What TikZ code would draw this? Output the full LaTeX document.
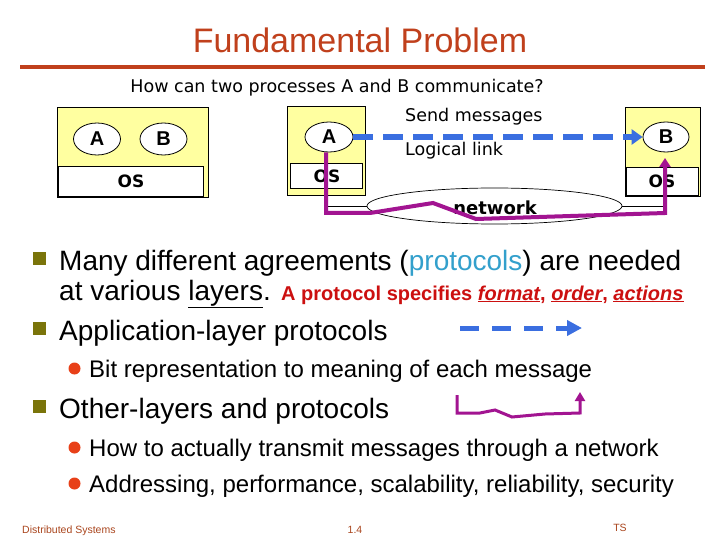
\documentclass[tikz,border=0pt]{standalone}
\usepackage{fontspec}
\setmainfont{Liberation Sans}
\newfontfamily\verd{DejaVu Sans}
\usetikzlibrary{shapes.geometric,arrows.meta}
\definecolor{titlecol}{RGB}{192,64,28}
\definecolor{hostyellow}{RGB}{255,255,160}
\definecolor{msgblue}{RGB}{58,110,224}
\definecolor{netmag}{RGB}{162,20,145}
\definecolor{olivecol}{RGB}{122,116,10}
\definecolor{protored}{RGB}{204,16,16}
\definecolor{protocyan}{RGB}{51,160,204}
\definecolor{dotcol}{RGB}{232,64,24}
\definecolor{footcol}{RGB}{170,70,30}
\begin{document}
\begin{tikzpicture}[x=1pt,y=-1pt,
  hostbox/.style={draw=black, line width=1pt, fill=hostyellow, inner sep=0pt, anchor=north west},
  osbox/.style={draw=black, line width=0.8pt, fill=white, inner sep=0pt, anchor=north west},
  oslabel/.style={font=\verd\bfseries\fontsize{17}{17}\selectfont, inner sep=0pt},
  proc/.style={ellipse, draw=black, line width=0.8pt, fill=white, inner sep=0pt, font=\bfseries\fontsize{20}{20}\selectfont},
  msg/.style={draw=msgblue, line width=6pt, dash pattern=on 20pt off 10pt, -{Triangle[length=11pt,width=15pt]}},
  netpath/.style={draw=netmag, line width=4pt, line join=miter, -{Triangle[length=9pt,width=11pt]}},
  vlabel/.style={font=\verd\fontsize{17.5}{20}\selectfont, inner sep=0pt},
  big/.style={font=\fontsize{28}{34}\selectfont, inner sep=0pt, anchor=base west},
  small/.style={font=\fontsize{24}{28}\selectfont, inner sep=0pt, anchor=base west},
  sqbullet/.style={rectangle, fill=olivecol, minimum size=13pt, inner sep=0pt},
  dotbullet/.style={circle, fill=dotcol, minimum size=12pt, inner sep=0pt},
  foot/.style={font=\fontsize{10.5}{12}\selectfont, text=footcol, inner sep=0pt}]
\useasboundingbox[fill=white] (0,0) rectangle (720,540);

% title
\node[font=\fontsize{34}{40}\selectfont, text=titlecol, inner sep=0pt] (title) at (360,40) {Fundamental Problem};
\coordinate (rl) at (20,67);
\coordinate (rr) at (705,67);
\draw[titlecol, line width=4pt] (rl) -- (rr);
\node[vlabel] (question) at (337,88) {How can two processes A and B communicate?};

% left host
\node[hostbox, minimum width=151pt, minimum height=90pt] (host0) at (57,107) {};
\node[osbox, minimum width=145pt, minimum height=30pt] (os0) at (58,166) {};
\node[oslabel] (os0t) at (131,181) {OS};
\node[proc, minimum width=47pt, minimum height=32pt] (p0a) at (97,139) {A};
\node[proc, minimum width=47pt, minimum height=32pt] (p0b) at (163.5,139) {B};

% host A
\node[hostbox, minimum width=78pt, minimum height=89pt] (hostA) at (287,106) {};
\node[osbox, minimum width=72pt, minimum height=25pt] (osA) at (290,163) {};
\node[oslabel] (osAt) at (327,176.5) {OS};
\node[proc, minimum width=48pt, minimum height=30pt] (procA) at (329,137) {A};

% host B
\node[hostbox, minimum width=75pt, minimum height=89pt] (hostB) at (625,107) {};
\node[osbox, minimum width=72pt, minimum height=28pt] (osB) at (626,167) {};
\node[oslabel] (osBt) at (662,181) {OS};
\node[proc, minimum width=46pt, minimum height=30pt] (procB) at (666,137) {B};

% network
\node[ellipse, draw=black, line width=0.7pt, fill=white, minimum width=255pt, minimum height=36pt, inner sep=0pt] (net) at (494.5,206) {};
\draw[line width=0.8pt] (hostA.south) |- (net.west);
\draw[line width=0.8pt] (net.east) -| (hostB.south);
\node[font=\verd\bfseries\fontsize{18}{18}\selectfont, inner sep=0pt] (nett) at (495,208) {network};

% physical path
\coordinate (m1) at (326,213);
\coordinate (m2) at (370,213);
\coordinate (m3) at (433,203);
\coordinate (m4) at (476,219);
\coordinate (m5) at (665,213);
\coordinate (m6) at (665,158);
\draw[netpath] (procA.south -| m1) -- (m1) -- (m2) -- (m3) -- (m4) -- (m5) -- (m6);

% logical link
\draw[msg] (procA.east) -- (procB.west);
\node[vlabel, anchor=west] (sendt) at (405,117) {Send messages};
\node[vlabel, anchor=west] (logt) at (405,151) {Logical link};

% bullets
\node[sqbullet] (sq1) at (39,258.5) {};
\node[big] (b1) at (59,270) {Many different agreements (\textcolor{protocyan}{protocols}) are needed};
\node[big] (b1b) at (59,300) {at various \underline{layers}. {\color{protored}\bfseries\fontsize{20}{24}\selectfont A protocol specifies \textit{\underline{format}}, \textit{\underline{order}}, \textit{\underline{actions}}}};

\node[sqbullet] (sq2) at (39,328.5) {};
\node[big] (b2) at (59,340) {Application-layer protocols};
\coordinate (la) at (460,328);
\coordinate (lb) at (582,328);
\draw[draw=msgblue, line width=5pt, dash pattern=on 19pt off 13pt, -{Triangle[length=15pt,width=15pt]}] (la) -- (lb);

\node[dotbullet] (dt1) at (74.5,368.5) {};
\node[small] (s1) at (89,377.5) {Bit representation to meaning of each message};

\node[sqbullet] (sq3) at (39,406.5) {};
\node[big] (b3) at (59,418) {Other-layers and protocols};
\coordinate (q1) at (457,395);
\coordinate (q2) at (457,413);
\coordinate (q3) at (480,413);
\coordinate (q4) at (495,410);
\coordinate (q5) at (512,417);
\coordinate (q6) at (545,414);
\coordinate (q7) at (580,413);
\coordinate (q8) at (580,392);
\draw[draw=netmag, line width=3pt, -{Triangle[length=9pt,width=10pt]}] (q1) -- (q2) -- (q3) -- (q4) -- (q5) -- (q6) -- (q7) -- (q8);

\node[dotbullet] (dt2) at (74.5,447.5) {};
\node[small] (s2) at (89,456.5) {How to actually transmit messages through a network};
\node[dotbullet] (dt3) at (74.5,483.5) {};
\node[small] (s3) at (89,492.5) {Addressing, performance, scalability, reliability, security};

% footer
\node[foot, anchor=west] (f1) at (22,531) {Distributed Systems};
\node[foot] (f2) at (355,530) {1.4};
\node[foot] (f3) at (620,528) {TS};
\end{tikzpicture}
\end{document}
